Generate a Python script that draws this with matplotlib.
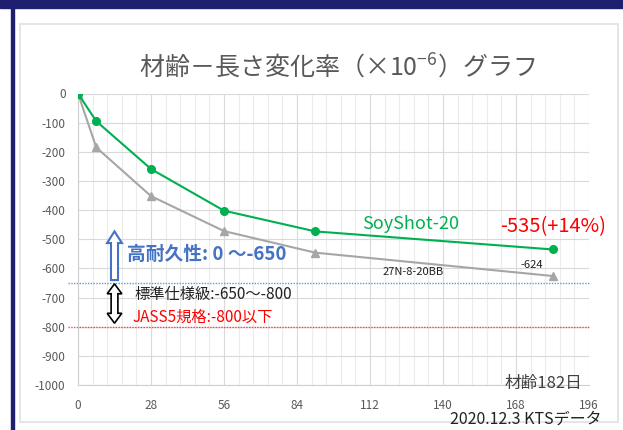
import matplotlib.pyplot as plt
from matplotlib.patches import Rectangle, FancyArrow, Polygon
import numpy as np

plt.rcParams['font.family'] = ['Noto Sans CJK JP', 'DejaVu Sans']
plt.rcParams['axes.unicode_minus'] = False

# 材齢(日)と長さ変化率(×10^-6)
days = [0, 7, 28, 56, 91, 182]
soyshot = [0, -95, -259, -402, -473, -535]
base_mix = [0, -185, -352, -472, -546, -626]
xticks = [0, 28, 56, 84, 112, 140, 168, 196]
yticks = [0, -100, -200, -300, -400, -500, -600, -700, -800, -900, -1000]
limit_high = -650
limit_jass = -800

fig = plt.figure(figsize=(6.23, 4.30), dpi=100)

# 外枠(紺色)と内側のグラフ枠
fig.patches.append(Rectangle((0, 1 - 8 / 430), 1, 8 / 430, transform=fig.transFigure,
                             color='#1f1f70', zorder=0))
fig.patches.append(Rectangle((11 / 623, 0), 3 / 623, 1, transform=fig.transFigure,
                             color='#1f1f70', zorder=0))
fig.patches.append(Rectangle((20 / 623, 1 - 422 / 430), 598 / 623, 398 / 430,
                             transform=fig.transFigure, fill=False,
                             edgecolor='#e0e0e0', lw=1.2, zorder=0))

ax = fig.add_axes([78 / 623, 1 - 385 / 430, 511 / 623, 291.5 / 430])
ax.set_xlim(0, 196)
ax.set_ylim(-1000, 0)
ax.set_xticks(xticks)
ax.set_yticks(yticks)
ax.set_xticks(np.arange(0, 196.1, 5.6), minor=True)
ax.grid(True, which='major', color='#d9d9d9', lw=0.8)
ax.grid(True, which='minor', axis='x', color='#ececec', lw=0.8)
ax.set_axisbelow(True)
for s in ['top', 'right']:
    ax.spines[s].set_visible(False)
for s in ['left', 'bottom']:
    ax.spines[s].set_color('#d0d0d0')
ax.tick_params(which='both', length=0, labelsize=8.5, colors='#595959')
ax.tick_params(axis='x', pad=10)
ax.tick_params(axis='y', pad=9)

ax.axhline(limit_high, color='#5b9bd5', lw=1, ls=(0, (1, 1)), xmin=-0.02, clip_on=False)
ax.axhline(limit_jass, color='#ff4040', lw=1, ls=(0, (1, 1)), xmin=-0.02, clip_on=False)

ax.plot(days, base_mix, color='#a6a6a6', lw=1.5, marker='^', ms=5.5, zorder=3)
ax.plot(days, soyshot, color='#00b050', lw=1.5, marker='o', ms=5.5, zorder=4)

fig.text(337 / 623, 1 - 68 / 430, '材齢－長さ変化率（×$\\mathregular{10^{-6}}$）グラフ',
         ha='center', va='center', fontsize=18, color='#595959')

# 高耐久性の矢印(白抜き)
ax.add_patch(FancyArrow(14, limit_high + 10, 0, 167, width=2.7, head_width=5.7,
                        head_length=40, length_includes_head=True,
                        facecolor='white', edgecolor='#4472c4', lw=1.5, zorder=5))
# 標準仕様級の両矢印(白抜き)
cx, bw, hw, hl = 14, 1.3, 2.8, 34
top, bot = limit_high - 3, limit_jass + 12
ax.add_patch(Polygon([(cx, top), (cx + hw, top - hl), (cx + bw, top - hl),
                      (cx + bw, bot + hl), (cx + hw, bot + hl), (cx, bot),
                      (cx - hw, bot + hl), (cx - bw, bot + hl), (cx - bw, top - hl),
                      (cx - hw, top - hl)], closed=True, facecolor='white',
                     edgecolor='black', lw=1.2, zorder=5))

ax.text(18.8, -552, '高耐久性: 0 〜-650', fontsize=13.5, fontweight='bold',
        color='#4472c4', va='center')
ax.text(21.5, -690, '標準仕様級:-650〜-800', fontsize=11, color='#222222', va='center')
ax.text(21, -767, 'JASS5規格:-800以下', fontsize=11, color='#ff0000', va='center')
ax.text(127.4, -446, 'SoyShot-20', fontsize=13, color='#00b050', ha='center', va='center')
ax.text(202.5, -457, '-535(+14%)', fontsize=14.5, color='#ff0000', ha='right', va='center')
ax.text(128.5, -614, '27N-8-20BB', fontsize=8, color='#222222', ha='center', va='center')
ax.text(174, -590, '-624', fontsize=8, color='#222222', ha='center', va='center')
ax.text(178.7, -995, '材齢182日', fontsize=12, color='#404040', ha='center', va='center')
fig.text(602 / 623, 1 - 419 / 430, '2020.12.3 KTSデータ', fontsize=11.5,
         color='#222222', ha='right', va='center')

fig.savefig('out.png', dpi=100)
